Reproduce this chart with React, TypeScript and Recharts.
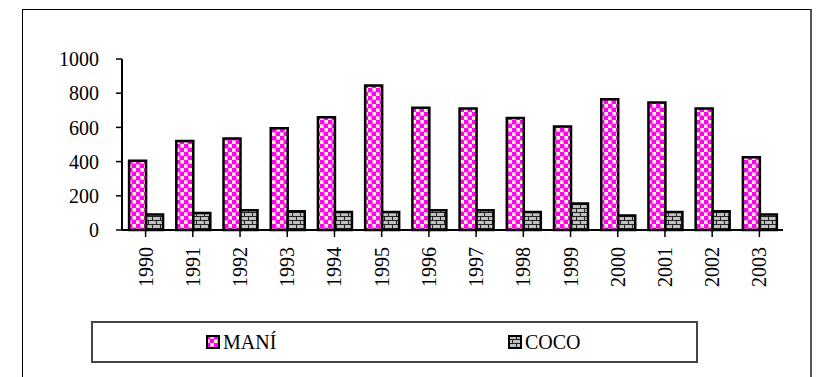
import { BarChart, Bar, XAxis, YAxis, Legend, ReferenceArea } from 'recharts'

const years = ['1990', '1991', '1992', '1993', '1994', '1995', '1996', '1997', '1998', '1999', '2000', '2001', '2002', '2003']
const mani = [405, 520, 535, 595, 660, 845, 715, 710, 655, 605, 765, 745, 710, 425]
const coco = [90, 100, 115, 110, 105, 105, 115, 115, 105, 155, 85, 105, 110, 90]
const yTicks = [0, 200, 400, 600, 800, 1000]

const data = years.map((y, i) => ({ year: y, mani: mani[i], coco: coco[i] }))

const FONT = '"Liberation Serif"'

const YearTick = (props: any) => {
  const { x, y, payload } = props
  return (
    <text
      transform={`translate(${x},${y + 8}) rotate(-90)`}
      textAnchor="end"
      dominantBaseline="central"
      fontFamily={FONT}
      fontSize={20}
      fill="#000"
    >
      {payload.value}
    </text>
  )
}

const LegendBox = () => (
  <div
    style={{
      width: 607,
      height: 42,
      boxSizing: 'border-box',
      border: '2px solid #444',
      position: 'relative',
      fontFamily: FONT,
      fontSize: 20,
      background: '#fff',
    }}
  >
    {[
      { name: 'MANÍ', fill: 'url(#maniPat)', left: 113 },
      { name: 'COCO', fill: 'url(#cocoPat)', left: 415 },
    ].map((it) => (
      <div
        key={it.name}
        style={{ position: 'absolute', left: it.left, top: 8, display: 'flex', alignItems: 'center' }}
      >
        <svg width={14} height={14} style={{ marginRight: 3 }}>
          <rect x={1} y={1} width={12} height={12} fill={it.fill} stroke="#000" strokeWidth={2} />
        </svg>
        <span style={{ lineHeight: '22px' }}>{it.name}</span>
      </div>
    ))}
  </div>
)

export default function App() {
  return (
    <div style={{ position: 'absolute', left: 0, top: 0, width: 819, height: 377, overflow: 'hidden', background: '#fff', fontFamily: FONT }}>
      <div
        style={{
          position: 'absolute',
          left: 22,
          top: 9,
          width: 790,
          height: 420,
          borderTop: '1px solid #000',
          borderLeft: '1px solid #000',
          borderRight: '2px solid #555',
          boxSizing: 'border-box',
        }}
      />
      <div style={{ position: 'absolute', left: 0, top: 0 }}>
        <BarChart
          width={819}
          height={377}
          data={data}
          margin={{ top: 59, right: 36, left: 0, bottom: 0 }}
          barCategoryGap="15%"
          barGap={0}
        >
          <defs>
            <pattern id="maniPat" width={8} height={8} patternUnits="userSpaceOnUse">
              <rect width={8} height={8} fill="#f5f0b0" />
              <circle cx={2} cy={2} r={2.6} fill="#ff00ff" />
              <circle cx={6} cy={6} r={2.6} fill="#ff00ff" />
              <rect x={5} y={1} width={2} height={1} fill="#ffffff" />
              <rect x={1} y={5} width={2} height={1} fill="#ffffff" />
            </pattern>
            <pattern id="cocoPat" width={8} height={8} patternUnits="userSpaceOnUse">
              <rect width={8} height={8} fill="#c0c0c0" />
              <rect x={0} y={0} width={8} height={1} fill="#222" />
              <rect x={0} y={4} width={8} height={1} fill="#222" />
              <rect x={0} y={0} width={1} height={4} fill="#222" />
              <rect x={4} y={4} width={1} height={4} fill="#222" />
            </pattern>
          </defs>
          <ReferenceArea fill="none" fillOpacity={0} stroke="#808080" strokeWidth={2} ifOverflow="visible" />
          <XAxis
            dataKey="year"
            height={147}
            interval={0}
            tick={<YearTick />}
            tickSize={7}
            axisLine={{ stroke: '#000', strokeWidth: 2 }}
            tickLine={{ stroke: '#000', strokeWidth: 1.5 }}
          />
          <YAxis
            width={122}
            domain={[0, 1000]}
            ticks={yTicks}
            interval={0}
            tickSize={6}
            tickMargin={17}
            axisLine={{ stroke: '#000', strokeWidth: 2 }}
            tickLine={{ stroke: '#000', strokeWidth: 1.5 }}
            tick={{ fontFamily: FONT, fontSize: 20, fill: '#000' }}
          />
          <Bar dataKey="mani" name="MANÍ" fill="url(#maniPat)" stroke="#000" strokeWidth={2.5} isAnimationActive={false} />
          <Bar dataKey="coco" name="COCO" fill="url(#cocoPat)" stroke="#000" strokeWidth={2.5} isAnimationActive={false} />
          <Legend
            layout="horizontal"
            verticalAlign="middle"
            align="center"
            content={<LegendBox />}
            wrapperStyle={{ left: 91, top: 321, width: 607, height: 42 }}
          />
        </BarChart>
      </div>
    </div>
  )
}
